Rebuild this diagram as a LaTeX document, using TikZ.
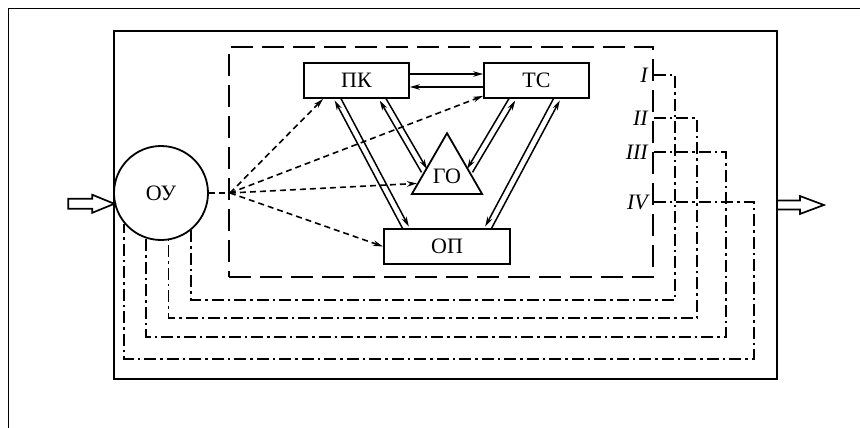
\documentclass[tikz,border=0pt]{standalone}
\usepackage{fontspec}
\setmainfont{Liberation Serif}
\usetikzlibrary{arrows.meta,calc,shapes.geometric}

% two parallel links between #1 and #2: the one on side #3 points to #2, the other to #1
\newcommand{\duplex}[4]{%
  \draw[link,tip] ($(#1)!3.2pt!#3:(#2)$) -- ($(#2)!3.2pt!#4:(#1)$);
  \draw[link,tip] ($(#2)!3.2pt!#3:(#1)$) -- ($(#1)!3.2pt!#4:(#2)$);
}

\begin{document}
\begin{tikzpicture}[x=1pt,y=-1pt,
  txt/.style={font=\fontsize{22}{26}\selectfont},
  box/.style={txt,draw,line width=1.8pt,minimum width=105pt,minimum height=35pt,inner sep=0pt},
  link/.style={line width=1.5pt},
  tip/.style={-{Stealth[length=10pt,width=5.5pt]}},
  probe/.style={line width=1.6pt,dash pattern=on 6pt off 4pt},
  loop/.style={line width=1.7pt,dash pattern=on 12pt off 4pt on 2.5pt off 4pt},
  lbl/.style={font=\fontsize{22}{26}\selectfont\itshape,anchor=east,inner sep=0pt},
  hollow/.style={draw,line width=1.7pt,line join=miter}
]
\useasboundingbox (0,0) rectangle (860,428);

% outer sheet frame (runs off the right and bottom edges)
\begin{scope}
  \clip (0,0) rectangle (860,428);
  \draw[line width=1.8pt] (8.5,440) -- (8.5,8.5) -- (870,8.5);
\end{scope}

% system boundary and control core
\node[draw,line width=1.8pt,minimum width=663pt,minimum height=348pt,inner sep=0pt] (sys) at (445.5,205) {};
\node[draw,line width=1.8pt,dash pattern=on 22pt off 9pt,minimum width=424pt,minimum height=230pt,inner sep=0pt] (core) at (441,162) {};

% blocks
\node[box] (PK) at (356.5,80.5) {ПК};
\node[box] (TC) at (536.5,80.5) {ТС};
\node[box,minimum width=126pt] (OP) at (447,246.5) {ОП};
\node[txt,draw,circle,line width=1.8pt,minimum size=94pt,inner sep=0pt] (OY) at (161,193) {ОУ};
\node[txt,draw,regular polygon,regular polygon sides=3,minimum size=81pt,inner sep=0pt,line width=1.8pt] (GO) at (447,173.7) {\raisebox{-3pt}[\height][\depth]{ГО}};

% PK <-> TC
\draw[link,tip] ([yshift=6.5pt]PK.east) -- ([yshift=6.5pt]TC.west);
\draw[link,tip] ([yshift=-6.5pt]TC.west) -- ([yshift=-6.5pt]PK.east);

% slanted two-way links
\coordinate (pk1) at ([xshift=-19pt]PK.south);
\coordinate (op1) at ([xshift=-41pt]OP.north);
\coordinate (pk2) at ([xshift=26pt]PK.south);
\coordinate (go1) at ($(GO.corner 1)!0.62!(GO.corner 2)$);
\coordinate (tc1) at ([xshift=-24pt]TC.south);
\coordinate (go2) at ($(GO.corner 1)!0.62!(GO.corner 3)$);
\coordinate (tc2) at ([xshift=20.5pt]TC.south);
\coordinate (op2) at ([xshift=41pt]OP.north);
\duplex{pk1}{op1}{90}{-90}
\duplex{pk2}{go1}{90}{-90}
\duplex{tc1}{go2}{-90}{90}
\duplex{tc2}{op2}{-90}{90}

% state probes from the object
\coordinate (hub) at (230,193);
\draw[probe] (OY.east) -- (hub);
\draw[probe,tip] (hub) -- ([xshift=20pt]PK.south west);
\draw[probe,tip] (hub) -- ([yshift=3pt]TC.south west);
\draw[probe,tip] (hub) -- ($(GO.corner 1)!0.82!(GO.corner 2)$);
\draw[probe,tip] (hub) -- (OP.west);

% feedback levels
\node[lbl] (r1) at (648,75) {I};
\node[lbl] (r2) at (648,118) {II};
\node[lbl] (r3) at (648,152) {III};
\node[lbl] (r4) at (648,202) {IV};
\draw[loop] (r1 -| core.east) -| (675,300) -| (OY.-51.9);
\draw[loop] (r2 -| core.east) -| (697,318) -| (OY.-81.4);
\draw[loop] (r3 -| core.east) -| (726,337) -| (OY.-108.6);
\draw[loop] (r4 -| core.east) -| (754,359) -| (OY.-140);

% input and output
\coordinate (inTip) at (OY.193.5);
\draw[hollow] (inTip) -- ++(-22,-9) -- ++(0,4) -- ++(-24,0) -- ++(0,10) -- ++(24,0) -- ++(0,4) -- cycle;
\draw[hollow] (sys.east) ++(0,-4.5) -- ++(22,0) -- ++(0,-4.5) -- ++(24,9) -- ++(-24,9) -- ++(0,-4.5) -- ++(-22,0);
\end{tikzpicture}
\end{document}
